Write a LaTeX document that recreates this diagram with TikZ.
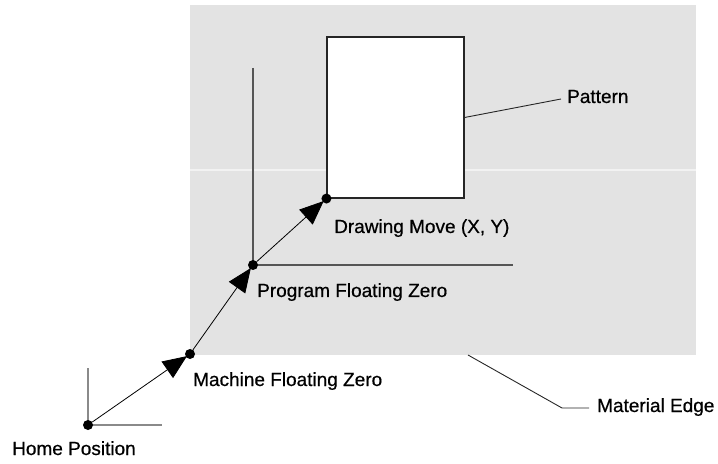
\documentclass[tikz,border=0pt]{standalone}
\usepackage{fontspec}
\setmainfont[FakeBold=0.6,BoldFont={Liberation Sans},AutoFakeBold=0.6]{Liberation Sans}
\usetikzlibrary{arrows.meta}
\definecolor{material}{HTML}{E3E3E3}
\definecolor{axisdark}{HTML}{555555}
\definecolor{axislight}{HTML}{8A8A8A}
\tikzset{
  dot/.style={circle, fill=black, inner sep=0pt, minimum size=10bp},
  move/.style={draw=black, line width=0.8bp, shorten >=-1.5bp,
    -{Triangle[length=24bp, width=20bp]}},
  label/.style={inner sep=0pt, anchor=base west, font=\fontsize{19bp}{22bp}\selectfont\bfseries},
  leader/.style={draw=black!85, line width=0.9bp},
  axisline/.style={draw=axisdark, line width=1.3bp},
  homeaxis/.style={draw=axislight, line width=1.5bp},
  patternbox/.style={draw=black!85, fill=white, line width=1.1bp,
    minimum width=137bp, minimum height=161bp, inner sep=0pt}
}
\begin{document}
\begin{tikzpicture}[x=1bp, y=-1bp]
  \useasboundingbox (0,0) rectangle (718,464);
  % material sheet
  \fill[material] (190,5) rectangle (696,355);
  \draw[white!95!black, line width=1.5bp] (190,170) -- (696,170);
  % pattern outline
  \node[patternbox] (pat) at (395.5,117.5) {};
  % axes at program floating zero
  \draw[axisline] (253,68) -- (253,265) -- (513,265);
  % axes at home position
  \draw[homeaxis] (88,368) -- (88,425) -- (162,425);
  % reference points
  \node[dot] (home) at (88,425) {};
  \node[dot] (mach) at (190,354) {};
  \node[dot] (prog) at (253,265) {};
  \node[dot] (draw) at (pat.south west) {};
  % moves
  \draw[move] (home) -- (mach);
  \draw[move] (mach) -- (prog);
  \draw[move] (prog) -- (draw);
  % labels
  \node[label] (patlbl) at (567,103) {Pattern};
  \node[label] (drawlbl) at (334,233) {Drawing Move (X, Y)};
  \node[label] (proglbl) at (257,297) {Program Floating Zero};
  \node[label] (machlbl) at (193,386) {Machine Floating Zero};
  \node[label] (homelbl) at (12,455) {Home Position};
  \node[label] (edgelbl) at (597,412) {Material Edge};
  % leaders
  \coordinate (patend) at (561,99);
  \draw[leader] (pat.east) -- (patend);
  \coordinate (edgestart) at (468,355);
  \coordinate (edgebend) at (562,408);
  \coordinate (edgeend) at (589,408);
  \draw[leader] (edgestart) -- (edgebend) -- (edgeend);
\end{tikzpicture}
\end{document}
